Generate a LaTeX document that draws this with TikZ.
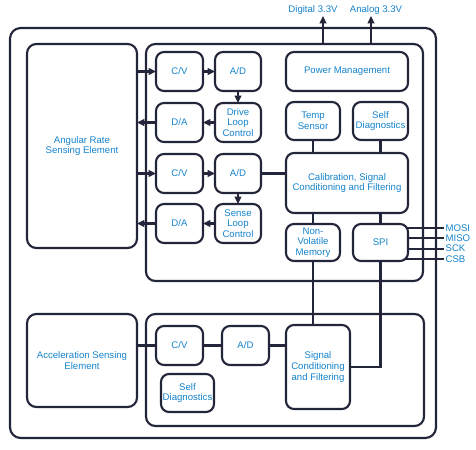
\documentclass[tikz,border=0pt]{standalone}
\usepackage{fontspec}
\setmainfont{Liberation Sans}
\usetikzlibrary{arrows.meta,backgrounds}
\definecolor{ln}{HTML}{23263A}
\definecolor{tx}{HTML}{1483CC}
\newcommand\bx[7][]{\node[box,#1,minimum width={(#5-#3)*0.75pt},minimum height={(#6-#4)*0.75pt}] (#2) at ({(#3+#5)/2},{(#4+#6)/2}) {#7};}
\tikzset{
  box/.style={draw=ln,line width=1.6pt,rounded corners=6pt,fill=white,inner sep=0pt,outer sep=0pt,
    text=tx,align=center,font=\fontsize{7.2}{8}\selectfont},
  bigbox/.style={box,fill=none,rounded corners=7pt},
  conn/.style={draw=ln,line width=1.6pt},
  arr/.style={conn,-{Triangle[length=5.5pt,width=5pt]}},
  lbl/.style={text=tx,inner sep=1pt,font=\fontsize{7.2}{8}\selectfont},
}
\begin{document}
\begin{tikzpicture}[x=0.75pt,y=-0.75pt]
\useasboundingbox (0,0) rectangle (476,450);
% big boxes
\bx[bigbox,rounded corners=8pt]{OUT}{10}{28}{436}{438}{}
\bx[bigbox]{ARS}{27}{44}{137}{248}{Angular Rate\\Sensing Element}
\bx[bigbox]{GYRO}{146}{44}{423}{281}{}
\bx[bigbox]{ACC}{27}{314}{137}{407}{Acceleration Sensing\\Element}
\bx[bigbox]{ACCB}{146}{314}{424}{426}{}
% gyro blocks
\bx{CVa}{156}{52}{203}{91}{C/V}
\bx{ADa}{215}{52}{261}{91}{A/D}
\bx{DAa}{156}{103}{203}{142}{D/A}
\bx{DLC}{215}{103}{261}{142}{Drive\\Loop\\Control}
\bx{CVb}{156}{154}{203}{193}{C/V}
\bx{ADb}{215}{154}{261}{193}{A/D}
\bx{DAb}{156}{204}{203}{243}{D/A}
\bx{SLC}{215}{204}{261}{243}{Sense\\Loop\\Control}
\bx{PWR}{286}{52}{408}{91}{Power Management}
\bx{TEMP}{286}{102}{340}{140}{Temp\\Sensor}
\bx{SDa}{353}{102}{408}{140}{Self\\Diagnostics}
\bx{CAL}{286}{153}{408}{213}{Calibration, Signal\\Conditioning and Filtering}
\bx{NVM}{286}{224}{340}{261}{Non-\\Volatile\\Memory}
\bx{SPI}{353}{224}{408}{261}{SPI}
% accel blocks
\bx{CVc}{156}{326}{203}{365}{C/V}
\bx{ADc}{222}{326}{269}{365}{A/D}
\bx{SDb}{161}{374}{214}{412}{Self\\Diagnostics}
\bx{SIG}{286}{325}{350}{409}{Signal\\Conditioning\\and Filtering}
% outside labels
\node[lbl] (dig) at (313,10) {Digital 3.3V};
\node[lbl] (ana) at (376,10) {Analog 3.3V};
\coordinate (digtip) at (323,16);
\coordinate (anatip) at (371,16);
\node[lbl,anchor=west] (mosi) at (444,228) {MOSI};
\node[lbl,anchor=west] (miso) at (444,238.3) {MISO};
\node[lbl,anchor=west] (sck) at (444,248.6) {SCK};
\node[lbl,anchor=west] (csb) at (444,258.9) {CSB};
\begin{pgfonlayer}{background}
% gyro drive loop
\draw[arr] (ARS.east |- CVa.west) -- (CVa.west);
\draw[arr] (CVa) -- (ADa);
\draw[arr] (ADa) -- (DLC);
\draw[arr] (DLC) -- (DAa);
\draw[arr] (DAa.west) -- (ARS.east |- DAa.west);
% sense loop
\draw[arr] (ARS.east |- CVb.west) -- (CVb.west);
\draw[arr] (CVb) -- (ADb);
\draw[arr] (ADb) -- (SLC);
\draw[arr] (SLC) -- (DAb);
\draw[arr] (DAb.west) -- (ARS.east |- DAb.west);
% calibration
\draw[conn] (ADb.east) -- (ADb.east -| CAL.west);
\draw[conn] (TEMP) -- (CAL.north -| TEMP);
\draw[conn] (SDa) -- (CAL.north -| SDa);
\draw[conn] (CAL.south -| NVM) -- (NVM);
\draw[conn] (CAL.south -| SPI) -- (SPI);
% power
\draw[arr] (digtip |- GYRO.north) -- (digtip);
\draw[arr] (anatip |- GYRO.north) -- (anatip);
% SPI lines
\draw[conn] (SPI.center |- mosi) -- (mosi.west);
\draw[conn] (SPI.center |- miso) -- (miso.west);
\draw[conn] (SPI.center |- sck) -- (sck.west);
\draw[conn] (SPI.center |- csb) -- (csb.west);
% accel
\draw[conn] (ACC.east |- CVc.west) -- (CVc.west);
\draw[conn] (CVc) -- (ADc);
\draw[conn] (ADc.east) -- (ADc.east -| SIG.west);
\draw[conn] (NVM) -- (NVM |- SIG.north);
\draw[conn] (SPI) |- (SIG.east);
\end{pgfonlayer}
\end{tikzpicture}
\end{document}
